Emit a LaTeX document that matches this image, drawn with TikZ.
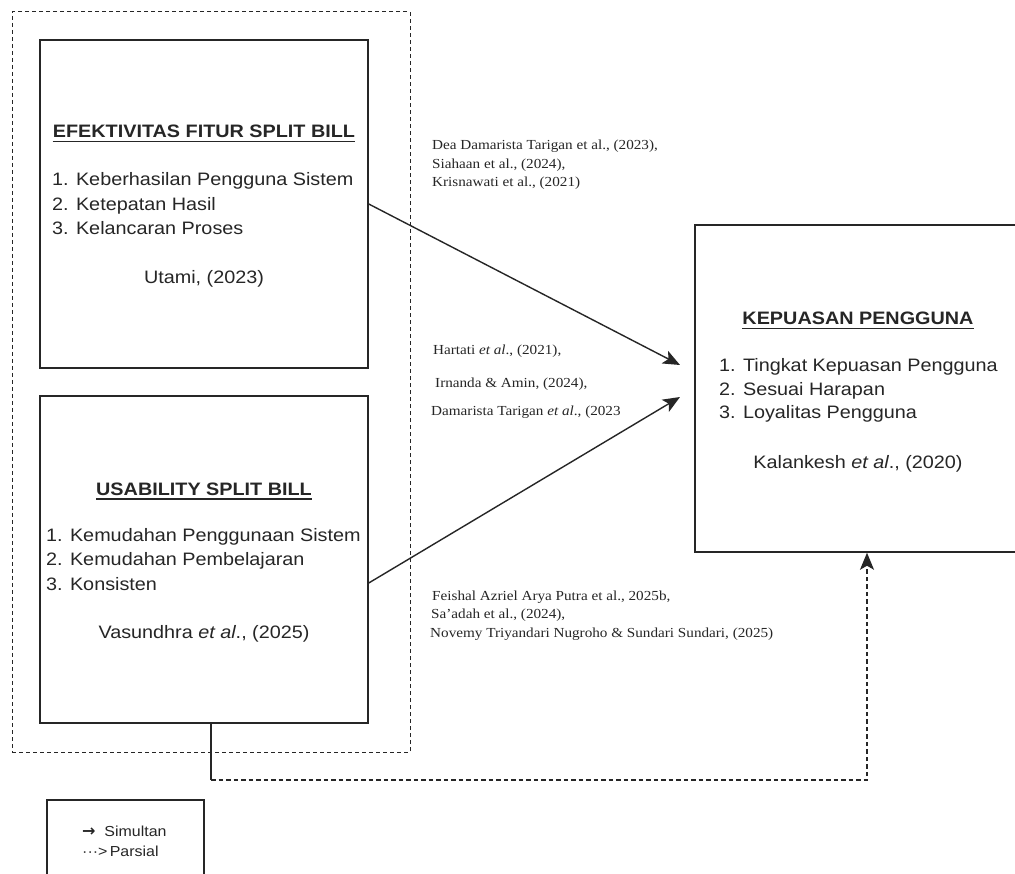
\documentclass[tikz,border=0pt]{standalone}
\usepackage{fontspec}
\setmainfont{Liberation Sans}[FakeStretch=1.1]
\newfontfamily\tnr{Liberation Serif}[FakeStretch=1.1]
\newfontfamily\dvs{DejaVu Sans}
\usetikzlibrary{arrows.meta}
\definecolor{ink}{HTML}{262626}
\begin{document}
\begin{tikzpicture}[x=1pt,y=-1pt,
  box/.style={draw=ink,line width=1.5pt,inner sep=0pt},
  ttl/.style={font=\bfseries\fontsize{18}{22}\selectfont,anchor=base,inner sep=0pt,text=ink},
  itm/.style={font=\fontsize{18}{22}\selectfont,anchor=base west,inner sep=0pt,text=ink},
  cit/.style={font=\fontsize{18}{22}\selectfont,anchor=base,inner sep=0pt,text=ink},
  refx/.style={font=\tnr\fontsize{13.8}{17}\selectfont,anchor=base west,inner sep=0pt,text=ink},
  leg/.style={font=\fontsize{14.5}{17}\selectfont,anchor=base west,inner sep=0pt,text=ink},
  ul/.style={line width=1.1pt,draw=ink},
  tipx/.style={-{Stealth[length=17pt,width=14pt,inset=4pt]}},
  arr/.style={tipx,line width=1.4pt,draw=ink},
  dsh/.style={dash pattern=on 4.5pt off 3pt,line width=1.2pt,draw=ink},
  grpdsh/.style={dash pattern=on 4pt off 3pt,line width=1pt,draw=ink}]
\useasboundingbox (0,0) rectangle (1015,874);
\fill[white] (0,0) rectangle (1015,874);

% outer dashed group
\node[grpdsh,draw,inner sep=0pt,minimum width=398pt,minimum height=740pt] (grp) at (211,382) {};

% box 1
\node[box,minimum width=328pt,minimum height=328pt] (b1) at (204,204) {};
\node[ttl] (t1) at (204,138) {EFEKTIVITAS FITUR SPLIT BILL};
\draw[ul] ([yshift=-3.5pt]t1.base west) -- ([yshift=-3.5pt]t1.base east);
\node[itm] (i11) at (52,186) {1. Keberhasilan Pengguna Sistem};
\node[itm] (i12) at (52,210.5) {2. Ketepatan Hasil};
\node[itm] (i13) at (52,235) {3. Kelancaran Proses};
\node[cit] (c1) at (204,284) {Utami, (2023)};

% box 2
\node[box,minimum width=328pt,minimum height=327pt] (b2) at (204,559.5) {};
\node[ttl] (t2) at (204,495.5) {USABILITY SPLIT BILL};
\draw[ul] ([yshift=-3.5pt]t2.base west) -- ([yshift=-3.5pt]t2.base east);
\node[itm] (i21) at (46,541.5) {1. Kemudahan Penggunaan Sistem};
\node[itm] (i22) at (46,565.5) {2. Kemudahan Pembelajaran};
\node[itm] (i23) at (46,590) {3. Konsisten};
\node[cit] (c2) at (204,638.5) {Vasundhra \textit{et al}., (2025)};

% right box
\node[box,minimum width=335pt,minimum height=327pt] (rb) at (862.5,388.5) {};
\node[ttl] (t3) at (858,325) {KEPUASAN PENGGUNA};
\draw[ul] ([yshift=-3.5pt]t3.base west) -- ([yshift=-3.5pt]t3.base east);
\node[itm] (i31) at (719,371.5) {1. Tingkat Kepuasan Pengguna};
\node[itm] (i32) at (719,395.5) {2. Sesuai Harapan};
\node[itm] (i33) at (719,419) {3. Loyalitas Pengguna};
\node[cit] (c3) at (858,468) {Kalankesh \textit{et al}., (2020)};

% reference texts
\node[refx] (r11) at (432,150) {Dea Damarista Tarigan et al., (2023),};
\node[refx] (r12) at (432,168.5) {Siahaan et al., (2024),};
\node[refx] (r13) at (432,187) {Krisnawati et al., (2021)};

\node[refx] (r21) at (433,355) {Hartati \textit{et al}., (2021),};
\node[refx] (r22) at (435,388) {Irnanda \& Amin, (2024),};
\begin{scope}
\clip (420,395) rectangle (619,425);
\node[refx] (r23) at (431,416) {Damarista Tarigan \textit{et al}., (2023)};
\end{scope}

\node[refx] (r31) at (432,600) {Feishal Azriel Arya Putra et al., 2025b,};
\node[refx] (r32) at (431,618.5) {Sa’adah et al., (2024),};
\node[refx] (r33) at (430,637) {Novemy Triyandari Nugroho \& Sundari Sundari, (2025)};

% connectors
\coordinate (tip1) at (680,365);
\coordinate (tip2) at (680,397);
\draw[arr] (b1.east) -- (tip1);
\draw[arr] ([yshift=-23.5pt]b2.east) -- (tip2);

\coordinate (k1) at (211,780);
\coordinate (k2) at (867,780);
\draw[line width=1.4pt,draw=ink] ([xshift=7pt]b2.south) -- (k1);
\draw[dsh,tipx] (k1) -- (k2) -- ([xshift=4.5pt]rb.south);

% legend
\node[box,line width=1.2pt,minimum width=157pt,minimum height=90pt] (lg) at (125.5,845) {};
\node[leg] (l1) at (82,836.5) {{\dvs\bfseries\fontsize{16}{17}\selectfont→}\ \ Simultan};
\node[leg] (l2) at (82,856.5) {···>\,Parsial};
\end{tikzpicture}
\end{document}
